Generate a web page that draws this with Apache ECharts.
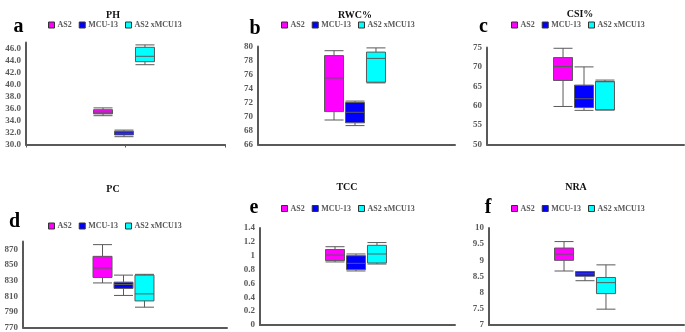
<!DOCTYPE html>
<html>
<head>
<meta charset="utf-8">
<script src="https://cdn.jsdelivr.net/npm/echarts@6/dist/echarts.min.js"></script>
<style>
  html, body { margin: 0; padding: 0; background: #fff; }
  #chart { width: 685px; height: 332px; }
</style>
</head>
<body>
<div id="chart"></div>
<script>
// 分组名称（图例）
const groups = ['AS2', 'MCU-13', 'AS2 xMCU13']
const groupColors = ['#FF00FF', '#0000FF', '#00FFFF']

// 每个小图的标题、字母、纵轴范围
const titles = ['PH', 'RWC%', 'CSI%', 'PC', 'TCC', 'NRA']
const letters = ['a', 'b', 'c', 'd', 'e', 'f']
const yMin = [30, 66, 50, 770, 0, 7]
const yMax = [47, 80, 75, 880, 1.4, 10]
const yTick = [1, 2, 5, 10, 0.2, 0.5]
const yLabelStep = [2, 2, 5, 20, 0.2, 0.5]

// 箱线数据 [min, Q1, median, Q3, max]，顺序同 groups
const phStats = [[34.8, 35.1, 35.4, 35.8, 36.1], [31.3, 31.6, 31.9, 32.2, 32.4], [43.3, 43.8, 44.7, 46.2, 46.6]]
const rwcStats = [[69.5, 70.7, 75.5, 78.7, 79.4], [68.7, 69.1, 70.6, 72.0, 72.2], [74.8, 74.9, 78.3, 79.2, 79.8]]
const csiStats = [[59.8, 66.5, 70.1, 72.4, 74.8], [58.8, 59.5, 61.8, 65.3, 70.0], [58.9, 58.9, 66.2, 66.2, 66.6]]
const pcStats = [[827, 834, 846, 861, 876], [811, 820, 825, 828, 837], [796, 804, 813, 837, 838]]
const tccStats = [[0.91, 0.93, 1.01, 1.09, 1.13], [0.78, 0.80, 0.89, 1.0, 1.025], [0.88, 0.895, 1.025, 1.15, 1.19]]
const nraStats = [[8.67, 9.0, 9.19, 9.38, 9.58], [8.37, 8.51, 8.58, 8.65, 8.65], [7.49, 7.97, 8.31, 8.47, 8.86]]
const allStats = [phStats, rwcStats, csiStats, pcStats, tccStats, nraStats]

// 版面位置
const gridPos = [
    { left: 26, top: 42.5, width: 199, height: 102 },
    { left: 258, top: 46.5, width: 197, height: 98 },
    { left: 487, top: 47.5, width: 197, height: 97 },
    { left: 23, top: 241.5, width: 204, height: 86 },
    { left: 260, top: 228, width: 195, height: 97 },
    { left: 489, top: 228, width: 195, height: 97 }
]
const boxBand = 74  // 箱体所在的窄网格宽度，决定三个箱子的间距
const titlePos = [[113, 15], [355, 15], [580, 14], [113, 189], [347, 187], [576, 187]]
const letterPos = [[18.5, 26.5], [255, 28.5], [483.5, 26.5], [14.5, 221.5], [254, 208], [488, 208]]
const legendPos = [[48, 21], [281, 21], [511, 21], [48, 222], [281, 204.5], [511, 204.5]]

const serif = "'Liberation Serif', 'Times New Roman', serif"
const axisGray = '#595959'

let myChart = echarts.init(document.getElementById('chart'))

let grid = [], xAxis = [], yAxis = [], legend = [], series = [], graphic = []
const n = titles.length

// 可见坐标轴（外框）
titles.forEach((t, i) => {
    grid.push(gridPos[i])
    xAxis.push({
        type: 'category',
        gridIndex: i,
        data: ['', ''],
        axisLine: { show: true, lineStyle: { color: axisGray, width: 2 } },
        axisTick: { show: i === 0, length: 3, lineStyle: { color: axisGray } },
        axisLabel: { show: false },
        splitLine: { show: false }
    })
    yAxis.push({
        type: 'value',
        gridIndex: i,
        min: yMin[i],
        max: yMax[i],
        interval: yTick[i],
        axisLine: { show: true, lineStyle: { color: axisGray, width: 2 } },
        axisTick: { show: false },
        splitLine: { show: false },
        axisLabel: {
            color: axisGray,
            fontFamily: serif,
            fontWeight: 'bold',
            fontSize: 9,
            margin: 5,
            formatter: v => {
                let k = (v - yMin[i]) / yLabelStep[i]
                if (Math.abs(k - Math.round(k)) > 1e-6) return ''
                return i === 0 ? v.toFixed(1) : String(+v.toFixed(2))
            }
        }
    })
})

// 箱线图所在的窄网格（隐藏坐标轴）
titles.forEach((t, i) => {
    let g = gridPos[i]
    grid.push({ left: g.left + g.width / 2 - 1.5 - boxBand / 2, top: g.top, width: boxBand, height: g.height })
    xAxis.push({ type: 'category', gridIndex: n + i, data: [t], show: false })
    yAxis.push({ type: 'value', gridIndex: n + i, min: yMin[i], max: yMax[i], show: false, splitLine: { show: false } })
    groups.forEach((name, j) => {
        series.push({
            name: name,
            type: 'boxplot',
            xAxisIndex: n + i,
            yAxisIndex: n + i,
            boxWidth: [19, 19],
            itemStyle: { color: groupColors[j], borderColor: '#5a5a5a', borderWidth: 1 },
            data: [allStats[i][j]]
        })
    })
    legend.push({
        left: legendPos[i][0],
        top: legendPos[i][1],
        data: groups.map((name, j) => ({ name: name, itemStyle: { color: groupColors[j], borderColor: '#333', borderWidth: 1 } })),
        icon: 'rect',
        itemWidth: 6,
        itemHeight: 6,
        itemGap: 7,
        padding: 0,
        selectedMode: false,
        textStyle: { color: axisGray, fontFamily: serif, fontWeight: 'bold', fontSize: 8, padding: [0, 0, 0, -2] }
    })
    graphic.push({
        type: 'text',
        x: titlePos[i][0],
        y: titlePos[i][1],
        style: { text: t, fill: '#111', font: 'bold 10px ' + serif, textAlign: 'center', textVerticalAlign: 'middle' }
    })
    graphic.push({
        type: 'text',
        x: letterPos[i][0],
        y: letterPos[i][1],
        style: { text: letters[i], fill: '#000', font: 'bold 20px ' + serif, textAlign: 'center', textVerticalAlign: 'middle' }
    })
})

myChart.setOption({
    animation: false,
    grid: grid,
    xAxis: xAxis,
    yAxis: yAxis,
    legend: legend,
    graphic: graphic,
    series: series
})

window.addEventListener('resize', function () {
    myChart.resize()
})
</script>
</body>
</html>
